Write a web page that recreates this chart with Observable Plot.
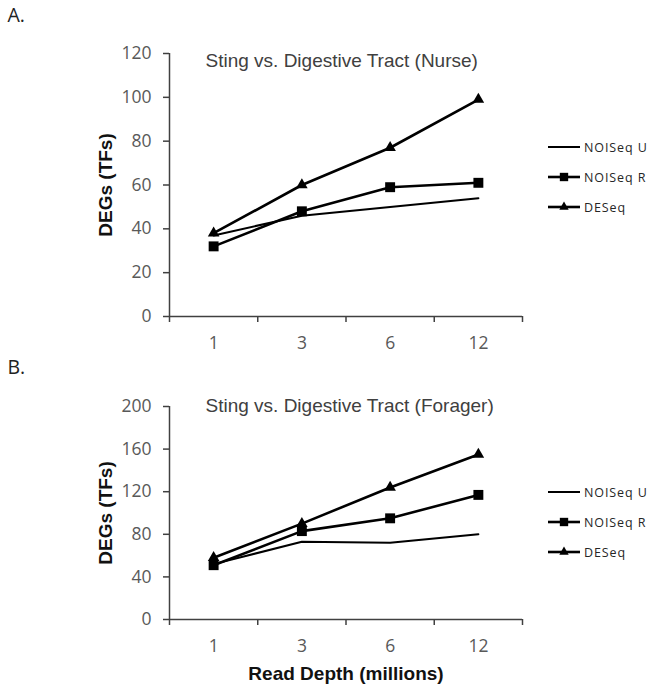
<!DOCTYPE html>
<html>
<head>
<meta charset="utf-8">
<script src="https://cdn.jsdelivr.net/npm/d3@7"></script>
<script src="https://cdn.jsdelivr.net/npm/@observablehq/plot@0.6"></script>
<style>
  html, body { margin: 0; padding: 0; background: #fff; }
  #root { position: relative; width: 653px; height: 690px; background: #fff; overflow: hidden; }
  .panel { position: absolute; left: 0; }
  .legend-row { position: absolute; left: 548px; height: 16px; display: flex; align-items: center;
    font-family: "Open Sans", sans-serif; font-size: 12.5px; letter-spacing: 0.9px; color: #262626; }
  .legend-row svg { display: block; margin-right: 3px; }
</style>
</head>
<body>
<div id="root"></div>
<script>
// ---- data ----
const depths = ["1", "3", "6", "12"];
const seriesNames = ["NOISeq U", "NOISeq R", "DESeq"];

const nurseU = [37, 46, 50, 54];
const nurseR = [32, 48, 59, 61];
const nurseD = [38, 60, 77, 99];

const foragerU = [52, 73, 72, 80];
const foragerR = [51, 83, 95, 117];
const foragerD = [58, 90, 124, 155];

const nurseTicks = [0, 20, 40, 60, 80, 100, 120];
const foragerTicks = [0, 40, 80, 120, 160, 200];

const titleNurse = "Sting vs. Digestive Tract (Nurse)";
const titleForager = "Sting vs. Digestive Tract (Forager)";
const yLabel = "DEGs (TFs)";
const xLabel = "Read Depth (millions)";

// ---- helpers ----
const root = document.getElementById("root");
const axisStroke = "#404040";
const tickText = "#595959";
const symbols = { "NOISeq U": null, "NOISeq R": "square", "DESeq": "triangle" };
const widths = { "NOISeq U": 2, "NOISeq R": 2.6, "DESeq": 2.6 };
const radii = { "NOISeq R": 5.6, "DESeq": 4.3 };

function rowsOf(U, R, D) {
  const rows = [];
  [U, R, D].forEach((arr, s) => arr.forEach((v, i) => rows.push({ x: i + 1, depth: depths[i], y: v, series: seriesNames[s] })));
  return rows;
}

function panel(cfg) {
  const rows = rowsOf(cfg.U, cfg.R, cfg.D);
  const yMax = cfg.yTicks[cfg.yTicks.length - 1];
  const boundaries = d3.range(0, depths.length + 1).map(i => i + 0.5);
  const marks = [];
  // axes
  marks.push(Plot.ruleX([0.5], { stroke: axisStroke, strokeWidth: 1.5 }));
  marks.push(Plot.ruleY([0], { stroke: axisStroke, strokeWidth: 1.5 }));
  marks.push(Plot.axisY({ ticks: cfg.yTicks, tickSize: 6, tickPadding: 12, stroke: axisStroke, strokeWidth: 1.5,
    fill: tickText, fontSize: 17.5, fontFamily: "Open Sans", label: null }));
  marks.push(Plot.axisX(boundaries, { tickSize: 6, tickFormat: () => "", stroke: axisStroke, strokeWidth: 1.5, label: null }));
  marks.push(Plot.axisX(depths.map((d, i) => i + 1), { tickSize: 0, tickPadding: 20, tickFormat: d => depths[d - 1],
    fill: tickText, fontSize: 17.5, fontFamily: "Open Sans", label: null }));
  // lines & markers
  for (const s of seriesNames) {
    const data = rows.filter(r => r.series === s);
    marks.push(Plot.line(data, { x: "x", y: "y", stroke: "black", strokeWidth: widths[s] }));
    if (symbols[s]) marks.push(Plot.dot(data, { x: "x", y: "y", symbol: symbols[s], r: radii[s], fill: "black", stroke: "none" }));
  }
  // texts
  marks.push(Plot.text([cfg.title], { frameAnchor: "top-left", textAnchor: "start", lineAnchor: "top", dx: 36, dy: cfg.titleDy,
    fontSize: 19, fontFamily: "Liberation Sans, Arial, sans-serif", fill: "#404040" }));
  marks.push(Plot.text([yLabel], { frameAnchor: "left", textAnchor: "middle", lineAnchor: "middle", rotate: -90, dx: -64,
    fontSize: 19, fontWeight: "bold", fontFamily: "Liberation Sans, Arial, sans-serif", fill: "#111" }));
  marks.push(Plot.text([cfg.letter], { frameAnchor: "top-left", textAnchor: "start", lineAnchor: "top", dx: -162, dy: cfg.letterDy,
    fontSize: 19.5, fontFamily: "Open Sans", fill: "#222" }));
  if (cfg.xLabel) {
    marks.push(Plot.text([xLabel], { frameAnchor: "bottom", textAnchor: "middle", lineAnchor: "middle", dy: 54,
      fontSize: 19, fontWeight: "bold", fontFamily: "Liberation Sans, Arial, sans-serif", fill: "#111" }));
  }
  const svg = Plot.plot({
    width: 653, height: cfg.height,
    marginLeft: 169, marginRight: 131, marginTop: cfg.marginTop, marginBottom: cfg.marginBottom,
    x: { type: "linear", domain: [0.5, depths.length + 0.5], axis: null },
    y: { domain: [0, yMax], axis: null },
    style: { background: "transparent", fontFamily: "Open Sans", overflow: "visible" },
    marks
  });
  const wrap = document.createElement("div");
  wrap.className = "panel";
  wrap.style.top = cfg.top + "px";
  wrap.appendChild(svg);
  root.appendChild(wrap);

  // legend
  cfg.legendY.forEach((cy, i) => {
    const s = seriesNames[i];
    const row = document.createElement("div");
    row.className = "legend-row";
    row.style.top = (cy - 8) + "px";
    const sw = d3.create("svg").attr("width", 33).attr("height", 16);
    sw.append("line").attr("x1", 0).attr("x2", 32).attr("y1", 8).attr("y2", 8).attr("stroke", "black").attr("stroke-width", widths[s]);
    if (symbols[s]) {
      const sym = symbols[s] === "square" ? d3.symbolSquare : d3.symbolTriangle;
      const size = symbols[s] === "square" ? 70 : 38;
      sw.append("path").attr("d", d3.symbol(sym, size)()).attr("transform", "translate(16,8)").attr("fill", "black");
    }
    row.appendChild(sw.node());
    const t = document.createElement("span");
    t.textContent = s;
    row.appendChild(t);
    root.appendChild(row);
  });
}

panel({ U: nurseU, R: nurseR, D: nurseD, yTicks: nurseTicks, title: titleNurse, letter: "A.",
  top: 0, height: 346, marginTop: 53, marginBottom: 30, titleDy: 0, letterDy: -45, xLabel: false,
  legendY: [147, 177, 207] });

panel({ U: foragerU, R: foragerR, D: foragerD, yTicks: foragerTicks, title: titleForager, letter: "B.",
  top: 346, height: 344, marginTop: 60, marginBottom: 71, titleDy: -8, letterDy: -46, xLabel: true,
  legendY: [492, 522, 552] });
</script>
</body>
</html>
